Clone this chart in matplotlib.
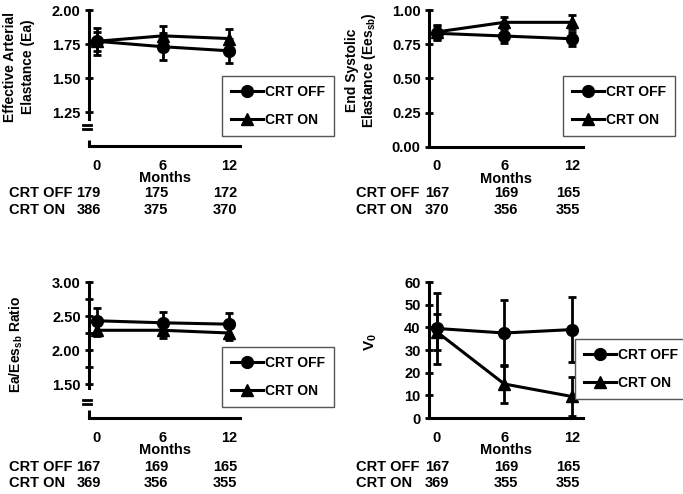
import matplotlib
matplotlib.use("Agg")
import matplotlib.pyplot as plt
import matplotlib.transforms as mtransforms
from matplotlib.ticker import FixedLocator
from matplotlib.lines import Line2D

plt.rcParams['font.family'] = ['Liberation Sans', 'DejaVu Sans']
plt.rcParams['font.weight'] = 'bold'
plt.rcParams['mathtext.fontset'] = 'custom'
plt.rcParams['mathtext.rm'] = 'Liberation Sans:bold'
plt.rcParams['mathtext.it'] = 'Liberation Sans:bold'
plt.rcParams['mathtext.bf'] = 'Liberation Sans:bold'

months = [0, 6, 12]
series_names = ["CRT OFF", "CRT ON"]

# Panel A: Effective arterial elastance
ea_off = [1.77, 1.73, 1.70]
ea_off_err = [0.10, 0.10, 0.09]
ea_on = [1.77, 1.81, 1.79]
ea_on_err = [0.07, 0.07, 0.07]
ea_n_off = [179, 175, 172]
ea_n_on = [386, 375, 370]

# Panel B: End systolic elastance
ees_off = [0.83, 0.81, 0.79]
ees_off_err = [0.05, 0.05, 0.05]
ees_on = [0.84, 0.91, 0.91]
ees_on_err = [0.05, 0.04, 0.05]
ees_n_off = [167, 169, 165]
ees_n_on = [370, 356, 355]

# Panel C: Ea/Ees ratio
ratio_off = [2.43, 2.40, 2.38]
ratio_off_err = [0.19, 0.16, 0.16]
ratio_on = [2.29, 2.29, 2.25]
ratio_on_err = [0.08, 0.12, 0.10]
ratio_n_off = [167, 169, 165]
ratio_n_on = [369, 356, 355]

# Panel D: V0
v0_off = [39.5, 37.5, 39.0]
v0_off_err = [15.5, 14.5, 14.5]
v0_on = [38.0, 15.0, 9.5]
v0_on_err = [8.0, 8.2, 8.8]
v0_n_off = [167, 169, 165]
v0_n_on = [369, 355, 355]

W, H = 683, 494
fig = plt.figure(figsize=(W / 100, H / 100), dpi=100)

FS = 10.5


def px_axes(l, t, r, b):
    return fig.add_axes([l / W, (H - b) / H, (r - l) / W, (b - t) / H])


def draw(ax, off, off_err, on, on_err, ylim, yticks, yticklabels, ylabel,
         label_xy, legend_box, n_off, n_on, row_y, row_x, num_dx,
         minor=None, brk=None, ylabel_fs=10, ylabel_ls=1.4):
    ax.errorbar(months, off, yerr=off_err, color='k', lw=2.2, marker='o',
                ms=8.5, elinewidth=2, capsize=3, capthick=2, zorder=3)
    ax.errorbar(months, on, yerr=on_err, color='k', lw=2.2, marker='^',
                ms=8.5, elinewidth=2, capsize=3, capthick=2, zorder=3)
    ax.set_xlim(-0.7, 13.0)
    ax.set_ylim(*ylim)
    ax.set_xticks(months)
    ax.set_xticklabels([str(m) for m in months], fontsize=FS, fontweight='bold')
    ax.tick_params(axis='x', length=0, pad=9)
    ax.set_yticks(yticks)
    ax.set_yticklabels(yticklabels, fontsize=FS, fontweight='bold')
    if minor is not None:
        ax.yaxis.set_minor_locator(FixedLocator(minor))
        ax.tick_params(axis='y', which='minor', direction='inout', length=6,
                       width=2)
    ax.tick_params(axis='y', which='major', direction='inout', length=6,
                   width=2, pad=3)
    for s in ('top', 'right'):
        ax.spines[s].set_visible(False)
    for s in ('left', 'bottom'):
        ax.spines[s].set_linewidth(2.2)
    ax.set_xlabel("Months", fontsize=FS, fontweight='bold', labelpad=-1)
    ax.set_ylabel(ylabel, fontsize=ylabel_fs, fontweight='bold',
                  va='center', ha='center', linespacing=ylabel_ls)
    ax.yaxis.set_label_coords(*label_xy)
    if brk is not None:
        upper, y1, y2, seg = brk
        ax.spines['left'].set_bounds(upper, ylim[1])
        for yy in (y1, y2):
            ax.plot([-0.04, 0.012], [yy, yy], transform=ax.transAxes,
                    clip_on=False, color='k', lw=2.0)
        ax.plot([0, 0], [0, seg], transform=ax.transAxes, clip_on=False,
                color='k', lw=2.2, solid_capstyle='butt')
    handles = [Line2D([], [], color='k', lw=2.2, marker='o', ms=8.5),
               Line2D([], [], color='k', lw=2.2, marker='^', ms=8.5)]
    l, t, r, b = legend_box
    leg = ax.legend(handles, series_names, loc='upper left',
                    bbox_to_anchor=(l / W, (H - t) / H),
                    bbox_transform=fig.transFigure, borderaxespad=0,
                    frameon=True, fancybox=False,
                    handlelength=2.3, handletextpad=0.12, labelspacing=1.0,
                    borderpad=0.65, prop={'weight': 'bold', 'size': 10})
    leg.get_frame().set_edgecolor('#555555')
    leg.get_frame().set_linewidth(1.0)
    leg.get_frame().set_alpha(1)
    # sample-size table
    trans = mtransforms.blended_transform_factory(ax.transData, fig.transFigure)
    for name, vals, y in ((series_names[0], n_off, row_y[0]),
                          (series_names[1], n_on, row_y[1])):
        fig.text(row_x / W, (H - y) / H, name, fontsize=FS, fontweight='bold',
                 ha='left', va='center')
        for m, v, dx in zip(months, vals, num_dx):
            tr = mtransforms.offset_copy(trans, fig=fig, x=dx, y=0,
                                         units='dots')
            ax.text(m, (H - y) / H, str(v), transform=tr,
                    fontsize=FS, fontweight='bold', ha='center', va='center')


left_dx = [-8, -6.5, -4]
right_dx = [0, 1.5, -3.5]

ax1 = px_axes(89, 10, 240, 146)
draw(ax1, ea_off, ea_off_err, ea_on, ea_on_err, (1.0, 2.0),
     [1.25, 1.5, 1.75, 2.0], ["1.25", "1.50", "1.75", "2.00"],
     "Effective Arterial\nElastance (Ea)", (-0.465, 0.58),
     (222, 76, 338, 135), ea_n_off, ea_n_on, (193, 210), 9, left_dx,
     brk=(1.2, 0.154, 0.125, 0.044))

ax2 = px_axes(429, 10, 583, 147)
draw(ax2, ees_off, ees_off_err, ees_on, ees_on_err, (0.0, 1.0),
     [0, 0.25, 0.5, 0.75, 1.0], ["0.00", "0.25", "0.50", "0.75", "1.00"],
     "End Systolic\nElastance (Ees$_{\\mathregular{sb}}$)", (-0.44, 0.56),
     (563, 76, 680, 135), ees_n_off, ees_n_on, (193, 210), 356, right_dx,
     ylabel_ls=1.05)

ax3 = px_axes(89, 282, 240, 418)
draw(ax3, ratio_off, ratio_off_err, ratio_on, ratio_on_err, (1.0, 3.0),
     [1.5, 2.0, 2.5, 3.0], ["1.50", "2.00", "2.50", "3.00"],
     "Ea/Ees$_{\\mathregular{sb}}$ Ratio", (-0.48, 0.54),
     (222, 347, 338, 406), ratio_n_off, ratio_n_on, (467, 483), 9, left_dx,
     minor=[1.75, 2.25, 2.75], brk=(1.44, 0.132, 0.103, 0.06))

ax4 = px_axes(429, 282, 583, 418)
draw(ax4, v0_off, v0_off_err, v0_on, v0_on_err, (0, 60),
     [0, 10, 20, 30, 40, 50, 60], ["0", "10", "20", "30", "40", "50", "60"],
     "V$_{\\mathregular{0}}$", (-0.38, 0.56),
     (575, 339, 690, 402), v0_n_off, v0_n_on, (467, 483), 356, right_dx,
     ylabel_fs=11)

fig.savefig("out.png", dpi=100)
